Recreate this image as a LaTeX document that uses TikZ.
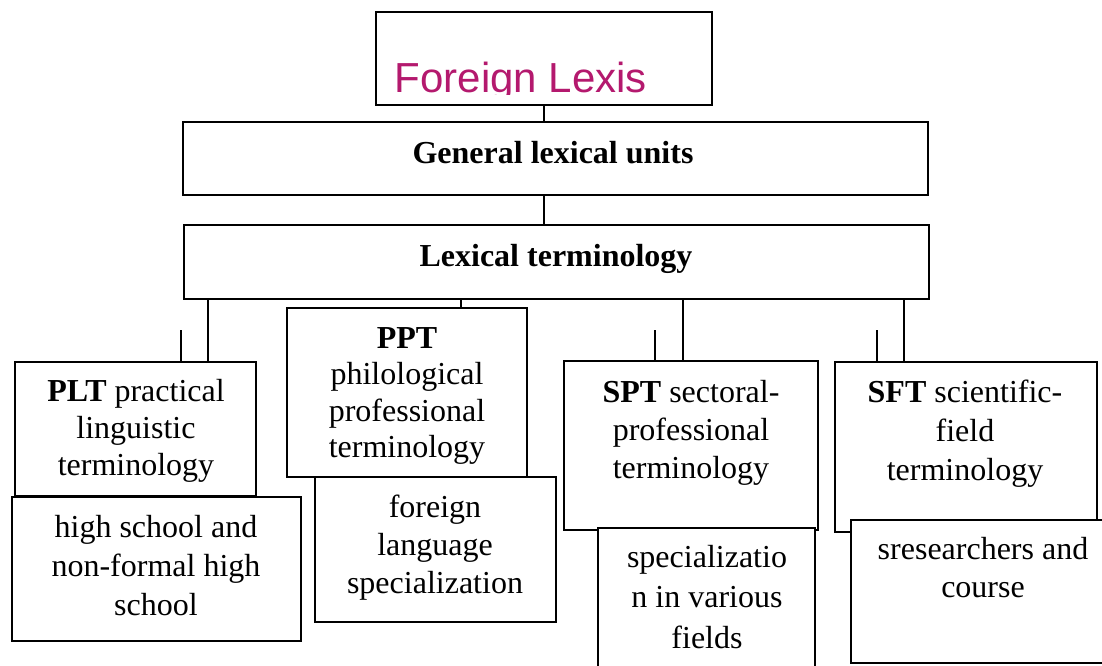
\documentclass[tikz,border=0pt]{standalone}
\usepackage{fontspec}
\setmainfont{Liberation Serif}
\newfontfamily\lexsans{Liberation Sans}
\definecolor{lexmag}{RGB}{180,25,110}
\begin{document}
\begin{tikzpicture}[x=1pt,y=-1pt,
  boxn/.style={draw=black,line width=1.6pt,fill=white,inner sep=0pt,outer sep=0pt},
  conn/.style={draw=black,line width=1.5pt},
  txt/.style={inner sep=0pt,anchor=base,align=center},
  t36/.style={txt,font=\fontsize{32}{36.5}\selectfont},
  t37/.style={txt,font=\fontsize{32}{37}\selectfont},
  t38/.style={txt,font=\fontsize{32}{38.3}\selectfont},
  t39/.style={txt,font=\fontsize{32}{39}\selectfont},
  t40/.style={txt,font=\fontsize{32}{40.5}\selectfont}]
\useasboundingbox (0,0) rectangle (1102,666);
\newcommand\boxat[5]{\node[boxn,minimum width={#4-#2},minimum height={#5-#3}] (#1) at ({(#2+#4)/2},{(#3+#5)/2}) {};}
% connector x positions
\coordinate (xa) at (208,0);
\coordinate (xb) at (461,0);
\coordinate (xc) at (683,0);
\coordinate (xd) at (904,0);
\coordinate (sa) at (181,330);
\coordinate (sc) at (655,330);
\coordinate (sd) at (877,330);
% boxes
\boxat{lexis}{376}{12}{712}{105}
\boxat{general}{183}{122}{928}{195}
\boxat{lexterm}{184}{225}{929}{299}
\boxat{plt}{15}{362}{256}{496}
\boxat{hs}{12}{497}{301}{641}
\boxat{ppt}{287}{308}{527}{477}
\boxat{fl}{315}{477}{556}{622}
\boxat{spt}{564}{361}{818}{530}
\boxat{spec}{598}{528}{815}{690}
\boxat{sft}{835}{362}{1097}{532}
\boxat{sres}{851}{520}{1115}{663}
% connectors
\draw[conn] (lexis.south) -- (lexis.south |- general.north);
\draw[conn] (general.south -| lexis.south) -- (lexterm.north -| lexis.south);
\draw[conn] (lexterm.south -| xa) -- (plt.north -| xa);
\draw[conn] (sa) -- (sa |- plt.north);
\draw[conn] (lexterm.south -| xb) -- (ppt.north -| xb);
\draw[conn] (lexterm.south -| xc) -- (spt.north -| xc);
\draw[conn] (sc) -- (sc |- spt.north);
\draw[conn] (lexterm.south -| xd) -- (sft.north -| xd);
\draw[conn] (sd) -- (sd |- sft.north);
% title text, clipped just below its baseline
\begin{scope}
\clip (377,13) rectangle (711,94.3);
\node[inner sep=0pt,anchor=base west,text=lexmag,font=\lexsans\fontsize{42}{42}\selectfont] (lexist) at (394.7,93) {Foreign Lexis};
\end{scope}
% texts (anchor base = baseline of the last line)
\node[t37] (generalt) at (553,163) {\textbf{General lexical units}};
\node[t37] (lextermt) at (556,266) {\textbf{Lexical terminology}};
\node[t37] (pltt) at (136,475.5) {\textbf{PLT} practical\\linguistic\\terminology};
\node[t39] (hst) at (156,615) {high school and\\non-formal high\\school};
\node[t36] (pptt) at (407,457.5) {\textbf{PPT}\\philological\\professional\\terminology};
\node[t38] (flt) at (435,593.6) {foreign\\language\\specialization};
\node[t38] (sptt) at (691,478.6) {\textbf{SPT} sectoral-\\professional\\terminology};
\node[t40] (spect) at (707,648) {specializatio\\n in various\\fields};
\node[t39] (sftt) at (965,480) {\textbf{SFT} scientific-\\field\\terminology};
\node[t38] (srest) at (983,597.3) {sresearchers and\\course};
\end{tikzpicture}
\end{document}
